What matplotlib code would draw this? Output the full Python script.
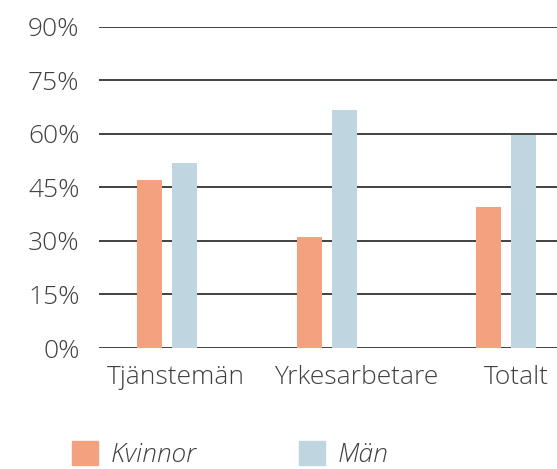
import numpy as np
import matplotlib.pyplot as plt
from matplotlib.patches import Patch

categories = ['Tjänstemän', 'Yrkesarbetare', 'Totalt']
kvinnor = [47.1, 31.1, 39.5]
man = [51.9, 66.7, 59.7]
series_names = ['Kvinnor', 'Män']
yticks = [0, 15, 30, 45, 60, 75, 90]

col_k = '#F4A17F'
col_m = '#BFD5E0'
txt = '#404040'

plt.rcParams['font.family'] = ['Open Sans', 'DejaVu Sans']

fig = plt.figure(figsize=(5.57, 4.69), dpi=100)
ax = fig.add_axes([99 / 557, 1 - 348 / 469, 458 / 557, 321.3 / 469])

# group positions (layout) and label positions, slightly uneven as in the original
xpos = np.array([0.0, 0.944, 2.0])
label_pos = [0.053, 1.115, 2.059]
w = 0.151
off = 0.103

ax.bar(xpos - off, kvinnor, width=w, color=col_k, zorder=3)
ax.bar(xpos + off, man, width=w, color=col_m, zorder=3)

ax.set_xlim(-0.401, 2.30)
ax.set_ylim(0, 90)
ax.set_yticks(yticks)
ax.set_yticklabels([f'{v}%' for v in yticks])
ax.set_xticks(label_pos)
ax.set_xticklabels(categories)
ax.yaxis.grid(True, color='#333333', linewidth=1.3, zorder=0)
ax.tick_params(axis='both', length=0, labelsize=19, labelcolor=txt)
ax.tick_params(axis='y', pad=14)
ax.tick_params(axis='x', pad=12)
for lab in ax.get_xticklabels() + ax.get_yticklabels():
    lab.set_fontweight('light')
for s in ax.spines.values():
    s.set_visible(False)

handles = [Patch(color=col_k), Patch(color=col_m)]
leg = fig.legend(handles, series_names, loc='upper left',
                 bbox_to_anchor=(72 / 557, 1 - 441 / 469), ncol=2,
                 frameon=False, fontsize=19, handlelength=1.0,
                 handleheight=1.0, handletextpad=0.45, columnspacing=3.9,
                 borderpad=0, borderaxespad=0)
for t in leg.get_texts():
    t.set_fontstyle('italic')
    t.set_fontweight('light')
    t.set_color(txt)

fig.savefig('out.png', dpi=100)
